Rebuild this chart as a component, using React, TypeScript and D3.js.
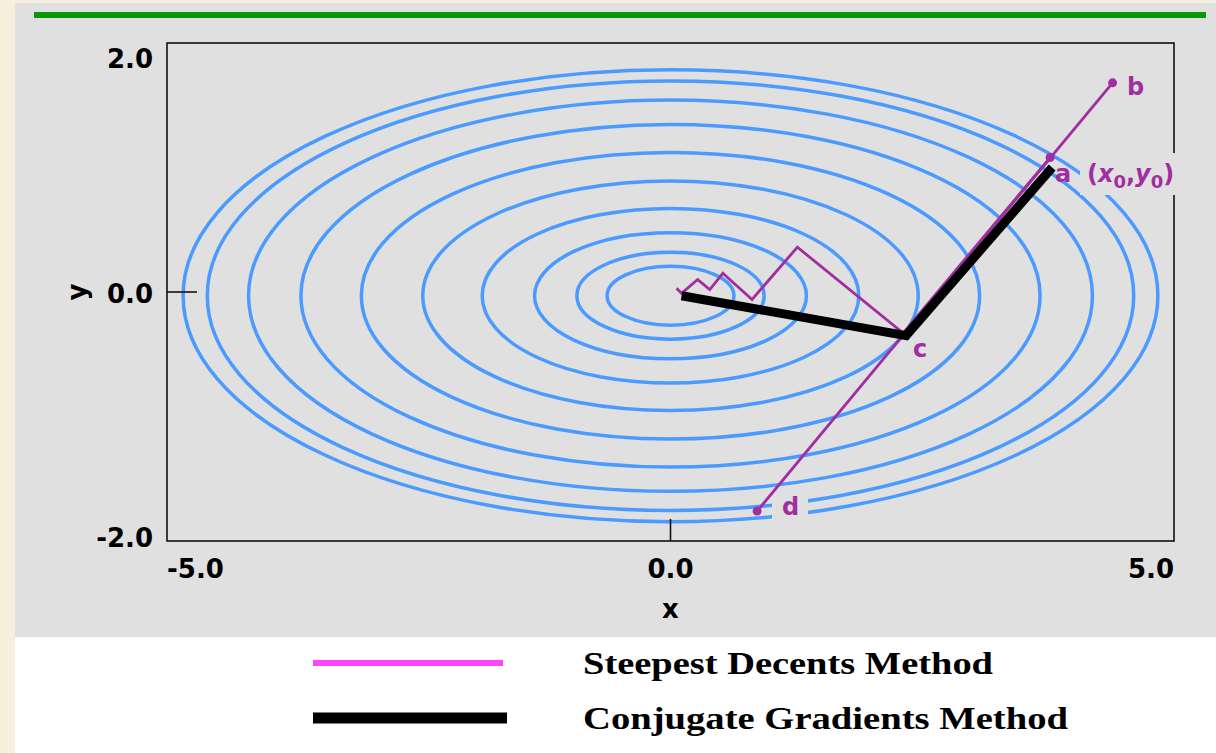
import React from 'react';
import * as d3 from 'd3';

// contour ellipses: semi-axis along x (data units), ry = rx * ellipseRatio
const contourRadii = [4.84, 4.6, 4.19, 3.67, 3.07, 2.46, 1.87, 1.35, 0.93, 0.63];
const ellipseRatio = 0.375;
const ellipseCenter = [0, -0.03];

// steepest descents: the gradient line through a (d .. b) and the zigzag from a
const steepestLine = [[0.86, -1.76], [4.39, 1.68]];
const steepestPath = [
  [3.77, 1.08], [2.31, -0.33], [1.26, 0.36], [0.81, -0.06], [0.52, 0.15],
  [0.39, 0.02], [0.27, 0.1], [0.11, -0.01], [0.06, 0.03]
];
const steepestDots = [[4.39, 1.68], [3.77, 1.08], [0.86, -1.76]];

// conjugate gradients
const conjugatePath = [[3.79, 1.0], [2.34, -0.35], [0.11, -0.03]];

const xTicks = [-5, 0, 5];
const yTicks = [-2, 0, 2];
const legendItems = ['Steepest Decents Method', 'Conjugate Gradients Method'];

const W = 1216;
const H = 753;
const purple = '#a02ea0';
const blue = '#4b9bff';
const gray = '#e0e0e0';
const sans = 'DejaVu Sans, sans-serif';

export default function App() {
  const x = d3.scaleLinear().domain([-5, 5]).range([167, 1174]);
  const y = d3.scaleLinear().domain([-2, 2]).range([541, 43]);
  const line = d3.line<number[]>().x(d => x(d[0])).y(d => y(d[1]));
  const fmt = (v: number) => d3.format('.1f')(v).replace('\u2212', '-');

  return (
    <div style={{ position: 'absolute', left: 0, top: 0 }}>
      <svg width={W} height={H}>
        <rect x={0} y={0} width={W} height={H} fill="#f6efdc" />
        <rect x={15} y={3} width={W - 15} height={634} fill={gray} />
        <rect x={15} y={637} width={W - 15} height={H - 637} fill="#ffffff" />
        <line x1={34} x2={1206} y1={15} y2={15} stroke="#0a980a" strokeWidth={6} />

        {/* contours */}
        {contourRadii.map((r, i) => (
          <ellipse key={i}
            cx={x(ellipseCenter[0])} cy={y(ellipseCenter[1])}
            rx={x(r) - x(0)} ry={y(0) - y(r * ellipseRatio)}
            fill="none" stroke={blue} strokeWidth={3.5} />
        ))}

        {/* frame */}
        <rect x={x(-5)} y={y(2)} width={x(5) - x(-5)} height={y(-2) - y(2)}
          fill="none" stroke="#111" strokeWidth={1.6} />
        <line x1={x(-5)} x2={x(-5) + 30} y1={y(0)} y2={y(0)} stroke="#111" strokeWidth={1.6} />
        <line x1={x(0)} x2={x(0)} y1={y(-2)} y2={y(-2) - 22} stroke="#111" strokeWidth={1.6} />

        {/* tick labels */}
        {yTicks.map(t => (
          <text key={'y' + t} x={153} y={y(t) + (t === 2 ? 25 : t === -2 ? 6 : 11)}
            textAnchor="end" fontFamily={sans} fontWeight="bold" fontSize={26}>{fmt(t)}</text>
        ))}
        {xTicks.map(t => (
          <text key={'x' + t} x={x(t)} y={578}
            textAnchor={t === -5 ? 'start' : t === 5 ? 'end' : 'middle'}
            fontFamily={sans} fontWeight="bold" fontSize={26}>{fmt(t)}</text>
        ))}
        <text x={x(0)} y={618} textAnchor="middle" fontFamily={sans} fontWeight="bold" fontSize={26}>x</text>
        <text transform={`translate(86,${y(0)}) rotate(-90)`} textAnchor="middle"
          fontFamily={sans} fontWeight="bold" fontSize={26}>y</text>

        {/* label backgrounds cut the contours */}
        <rect x={1080} y={153} width={104} height={42} fill={gray} />
        <rect x={772} y={494} width={36} height={32} fill={gray} />
        <rect x={911} y={340} width={20} height={20} fill={gray} />

        {/* steepest descents */}
        <path d={line(steepestLine) || ''} fill="none" stroke={purple} strokeWidth={2.8} />
        <path d={line(steepestPath) || ''} fill="none" stroke={purple} strokeWidth={2.8} strokeLinejoin="miter" />
        {steepestDots.map((p, i) => (
          <circle key={i} cx={x(p[0])} cy={y(p[1])} r={4.5} fill={purple} />
        ))}

        {/* conjugate gradients */}
        <path d={line(conjugatePath) || ''} fill="none" stroke="#000" strokeWidth={9} strokeLinejoin="miter" />

        {/* point labels */}
        <g fill={purple} fontFamily={sans} fontWeight="bold" fontSize={24}>
          <text x={1127} y={95}>b</text>
          <text x={1055} y={182}>a</text>
          <text x={913} y={357}>c</text>
          <text x={782} y={515}>d</text>
          <text x={1087} y={182}>
            (<tspan fontStyle="italic">x</tspan>
            <tspan fontSize={18} dy={6}>0</tspan>
            <tspan dy={-6}>,</tspan>
            <tspan fontStyle="italic">y</tspan>
            <tspan fontSize={18} dy={6}>0</tspan>
            <tspan dy={-6}>)</tspan>
          </text>
        </g>

        {/* legend */}
        <line x1={313} x2={503} y1={663} y2={663} stroke="#ff44ff" strokeWidth={6} />
        <line x1={313} x2={507} y1={718} y2={718} stroke="#000" strokeWidth={11} />
        {legendItems.map((s, i) => (
          <text key={s} x={583} y={674 + i * 55} fontFamily="Liberation Serif, serif" fontWeight="bold"
            fontSize={31} textLength={i === 0 ? 410 : 485} lengthAdjust="spacingAndGlyphs">{s}</text>
        ))}
      </svg>
    </div>
  );
}
